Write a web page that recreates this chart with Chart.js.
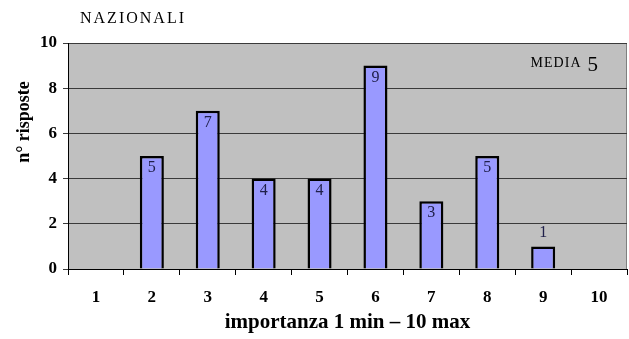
<!DOCTYPE html>
<html>
<head>
<meta charset="utf-8">
<script src="https://cdn.jsdelivr.net/npm/chart.js@4.4.0/dist/chart.umd.min.js"></script>
<style>
  html, body { margin: 0; padding: 0; background: #fff; }
  #wrap { width: 629px; height: 339px; }
</style>
</head>
<body>
<div id="wrap"><canvas id="myChart" width="629" height="339"></canvas></div>
<script>
var categories = ['1', '2', '3', '4', '5', '6', '7', '8', '9', '10'];
var risposte = [0, 5, 7, 4, 4, 9, 3, 5, 1, 0];
var yTicks = [0, 2, 4, 6, 8, 10];
var media = 5;

var serif = "'Liberation Serif', 'DejaVu Serif', serif";

// grey plot background + outline, drawn before the bars
var plotBg = {
    id: 'plotBg',
    beforeDraw: function (chart) {
        var a = chart.chartArea, c = chart.ctx;
        c.save();
        c.fillStyle = '#c0c0c0';
        c.fillRect(a.left, a.top, a.right - a.left, a.bottom - a.top);
        c.strokeStyle = '#808080';
        c.lineWidth = 1;
        c.strokeRect(a.left + 0.5, a.top + 0.5, a.right - a.left - 1, a.bottom - a.top);
        c.restore();
    }
};

// value labels, titles and the average note
var extras = {
    id: 'extras',
    afterDatasetsDraw: function (chart) {
        var c = chart.ctx, a = chart.chartArea;
        var meta = chart.getDatasetMeta(0);
        c.save();
        c.font = '16px ' + serif;
        c.fillStyle = '#20204a';
        c.textAlign = 'center';
        meta.data.forEach(function (bar, i) {
            var v = risposte[i];
            if (!v) return;
            if (v <= 1) {
                c.textBaseline = 'bottom';
                c.fillText(String(v), bar.x, bar.y - 6);
            } else {
                c.textBaseline = 'top';
                c.fillText(String(v), bar.x, bar.y + 4);
            }
        });

        c.fillStyle = '#000';
        c.textBaseline = 'alphabetic';
        c.textAlign = 'left';
        c.font = '16px ' + serif;
        c.letterSpacing = '2px';
        c.fillText('NAZIONALI', 80, 23);

        // MEDIA 5, right-aligned inside the plot
        c.textAlign = 'right';
        c.letterSpacing = '0px';
        c.font = '21px ' + serif;
        var num = String(media);
        var nw = c.measureText(num).width;
        c.fillText(num, a.right - 29, 71);
        c.font = '14px ' + serif;
        c.letterSpacing = '1px';
        c.fillText('MEDIA', a.right - 29 - nw - 6, 67);

        // vertical axis title
        c.letterSpacing = '0px';
        c.translate(29, 122);
        c.rotate(-Math.PI / 2);
        c.textAlign = 'center';
        c.font = 'bold 18px ' + serif;
        c.fillText('n° risposte', 0, 0);
        c.restore();
    }
};

var ctx = document.getElementById('myChart').getContext('2d');
var myChart = new Chart(ctx, {
    type: 'bar',
    data: {
        labels: categories,
        datasets: [{
            label: 'n° risposte',
            data: risposte,
            backgroundColor: '#9999ff',
            borderColor: '#000000',
            borderWidth: 2.5,
            borderSkipped: 'bottom',
            categoryPercentage: 1,
            barPercentage: 0.43
        }]
    },
    options: {
        responsive: false,
        animation: false,
        layout: { padding: { top: 43, right: 2, left: 0, bottom: 0 } },
        plugins: {
            legend: { display: false },
            tooltip: { enabled: false }
        },
        scales: {
            x: {
                afterFit: function (scale) { scale.height = 70; },
                grid: {
                    offset: true,
                    drawOnChartArea: false,
                    color: '#000',
                    tickLength: 6
                },
                border: { color: '#000', width: 1 },
                ticks: {
                    color: '#000',
                    padding: 12,
                    font: { family: serif, size: 17, weight: 'bold' }
                },
                title: {
                    display: true,
                    text: 'importanza 1 min – 10 max',
                    color: '#000',
                    padding: { top: 7 },
                    font: { family: serif, size: 21, weight: 'bold' }
                }
            },
            y: {
                min: 0,
                max: 10,
                afterFit: function (scale) { scale.width = 68; },
                afterBuildTicks: function (scale) {
                    scale.ticks = yTicks.map(function (v) { return { value: v }; });
                },
                grid: {
                    color: '#3a3a3a',
                    lineWidth: 1,
                    tickLength: 5
                },
                border: { color: '#000', width: 1 },
                ticks: {
                    color: '#000',
                    padding: 6,
                    font: { family: serif, size: 17, weight: 'bold' }
                }
            }
        }
    },
    plugins: [plotBg, extras]
});
</script>
</body>
</html>
